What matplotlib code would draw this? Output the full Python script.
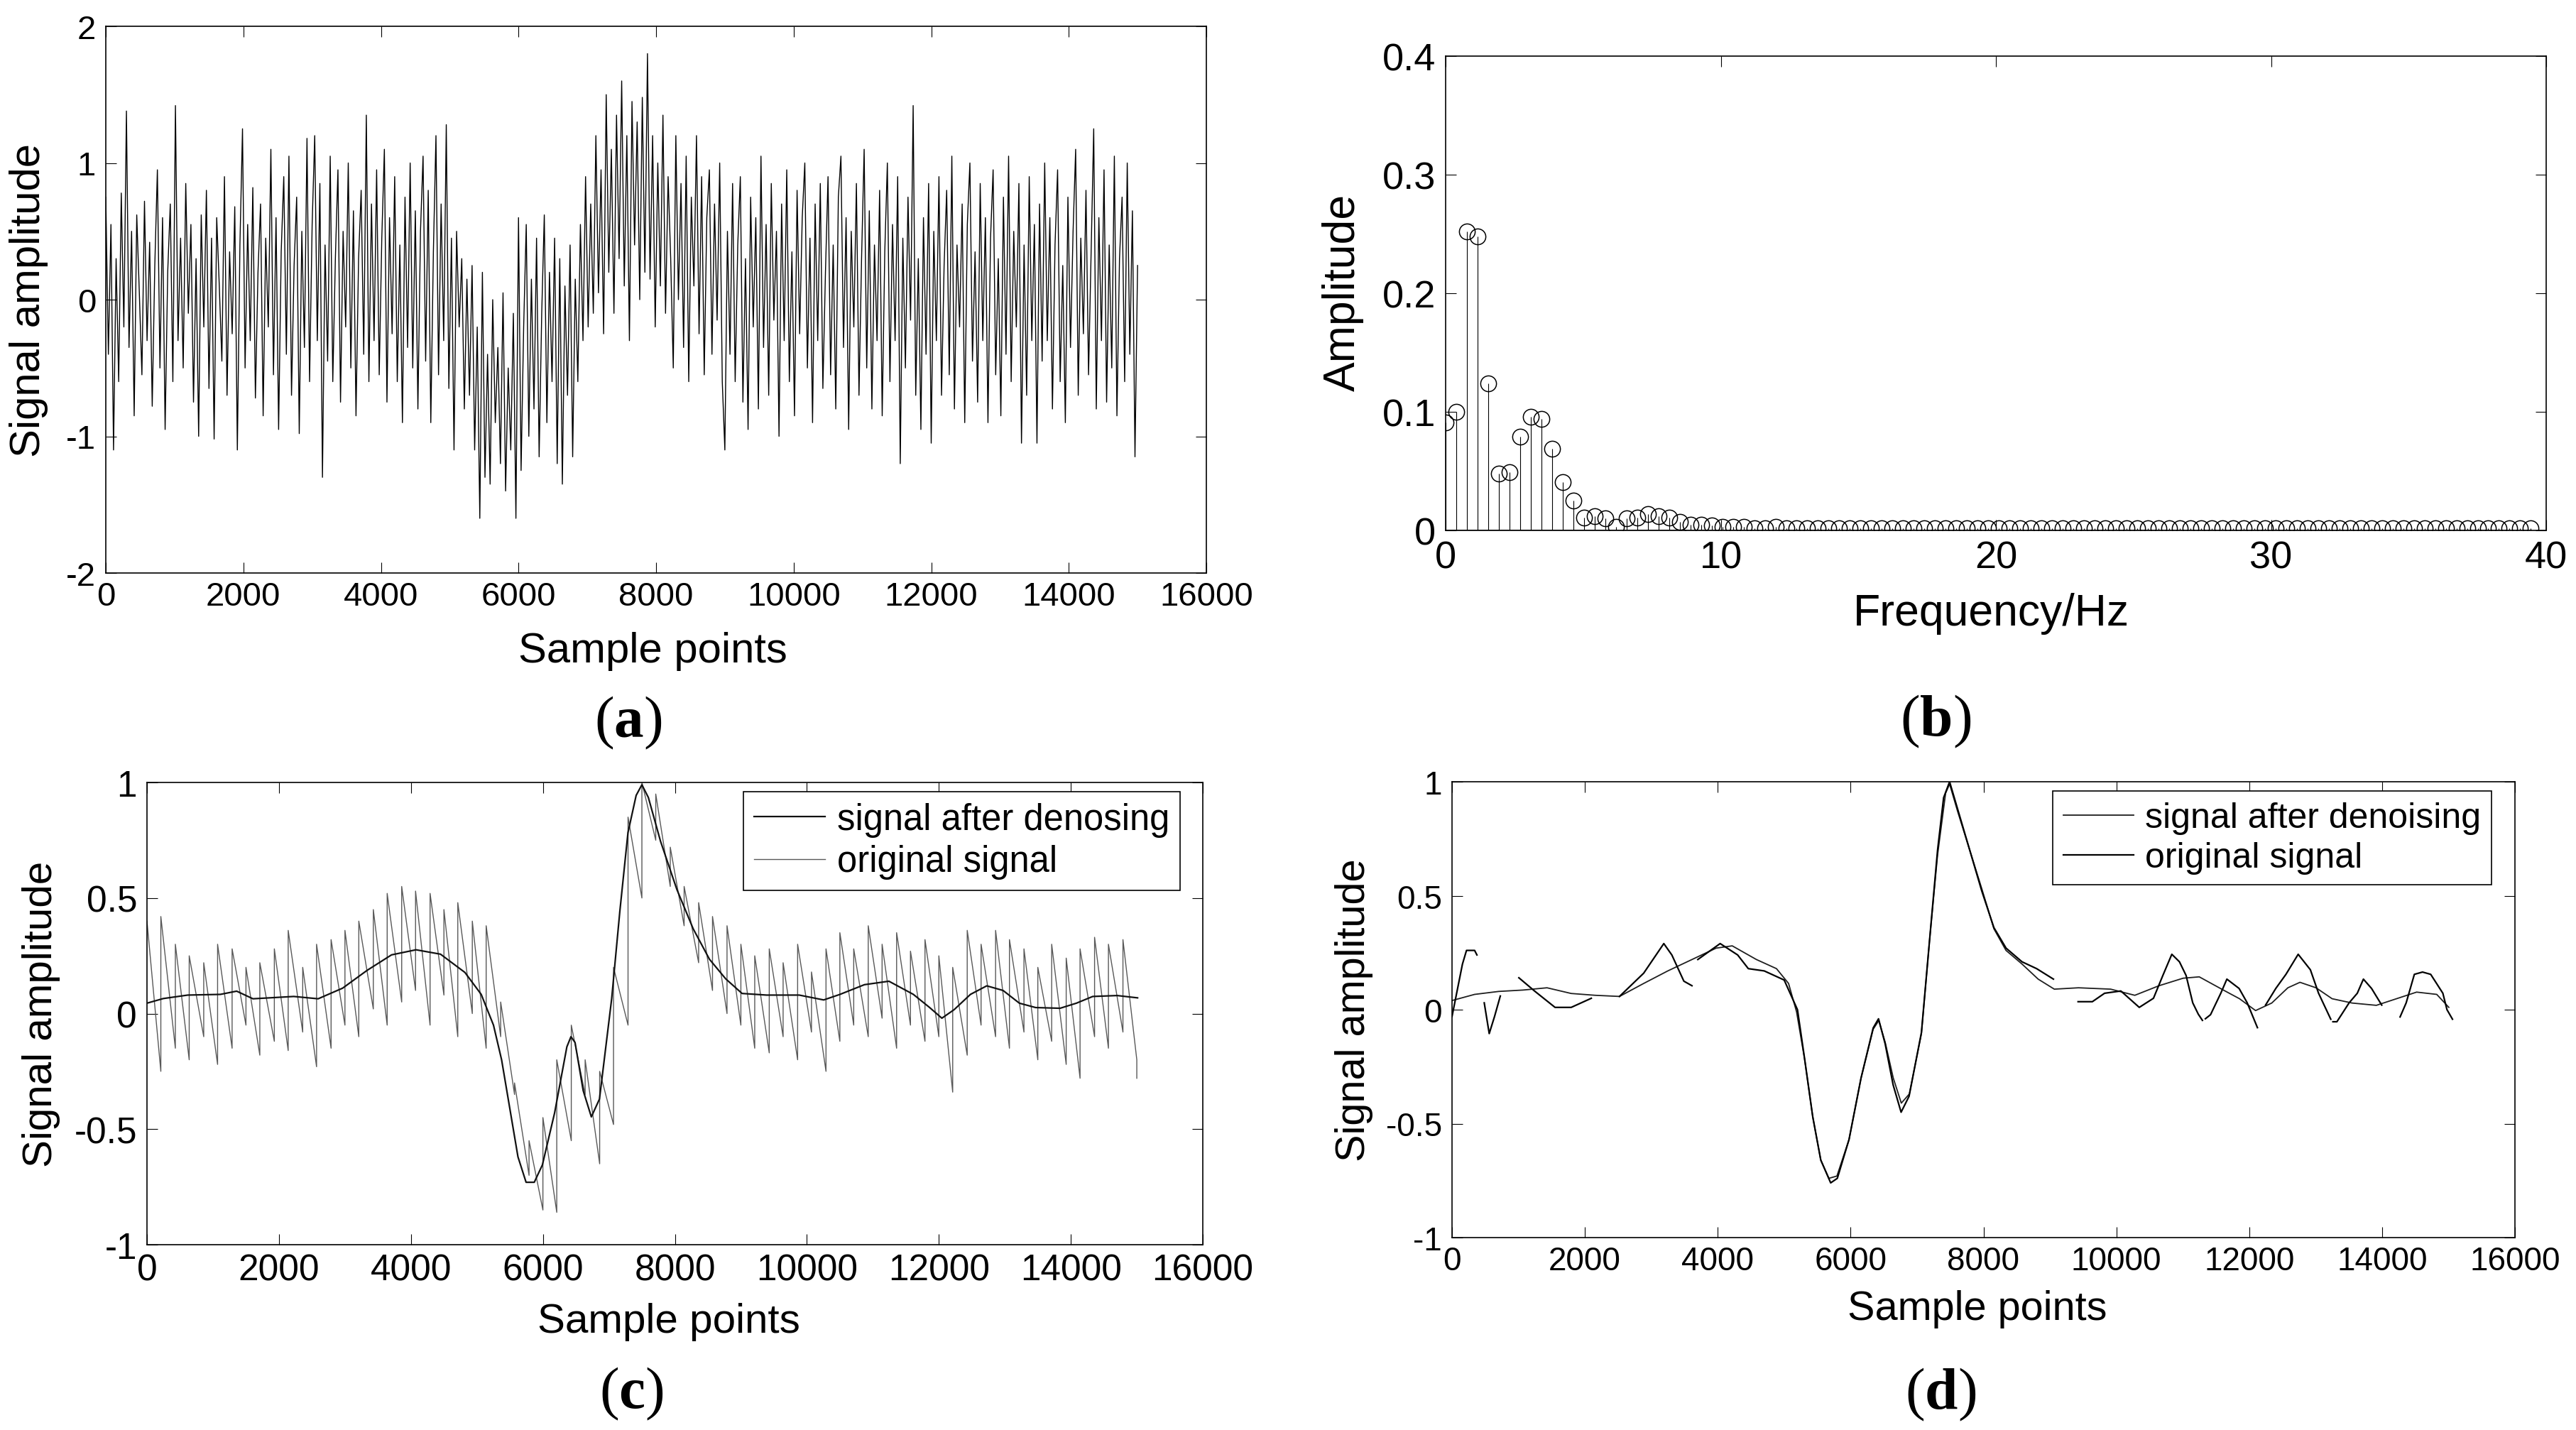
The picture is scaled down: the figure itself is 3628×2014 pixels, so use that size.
import numpy as np
import matplotlib
matplotlib.use("Agg")
import matplotlib.pyplot as plt
from matplotlib.ticker import FuncFormatter

plt.rcParams["font.family"] = ["Liberation Sans", "DejaVu Sans"]
plt.rcParams["axes.unicode_minus"] = False
plt.rcParams["mathtext.fontset"] = "custom"
plt.rcParams["mathtext.rm"] = "Liberation Serif"
plt.rcParams["mathtext.bf"] = "Liberation Serif:bold"

W, H = 3628, 2015

# ---------------- (a) raw noisy signal, 0..15000 samples ----------------
RAW_SIGNAL = [
    0.75, -0.4, 0.55, -1.1, 0.3, -0.6, 0.78, -0.2, 1.38, -0.35, 0.5, -0.85, 0.62, 0.05, -0.55, 0.72, -0.3, 0.42, -0.78, 0.25,
    0.95, -0.5, 0.6, -0.95, 0.2, 0.7, -0.6, 1.42, -0.3, 0.45, -0.5, 0.85, -0.1, 0.55, -0.75, 0.3, -1.0, 0.62, -0.2, 0.8,
    -0.65, 0.45, -1.02, 0.6, 0.1, -0.45, 0.9, -0.7, 0.35, -0.25, 0.68, -1.1, 0.4, 1.25, -0.5, 0.55, -0.3, 0.82, -0.72, 0.2,
    0.7, -0.85, 0.45, -0.2, 1.1, -0.55, 0.6, -0.95, 0.35, 0.9, -0.4, 1.05, -0.7, 0.25, 0.75, -0.98, 0.5, -0.35, 1.18, -0.6,
    0.55, 1.2, -0.3, 0.85, -1.3, 0.4, -0.45, 1.05, -0.6, 0.3, 0.95, -0.75, 0.5, -0.2, 1.0, -0.5, 0.65, -0.85, 0.3, 0.8,
    -0.4, 1.35, -0.6, 0.7, -0.3, 0.95, -0.55, 0.45, 1.1, -0.75, 0.6, -0.25, 0.9, -0.6, 0.4, -0.9, 0.75, -0.35, 1.0, -0.5,
    0.65, -0.8, 0.5, 1.05, -0.45, 0.8, -0.9, 0.35, 1.2, -0.55, 0.7, -0.3, 1.28, -0.65, 0.45, -1.1, 0.5, -0.2, 0.3, -0.8,
    0.15, -0.7, 0.25, -1.1, -0.2, -1.6, 0.2, -1.3, -0.4, -1.35, 0.0, -0.9, -0.35, -1.2, 0.05, -1.4, -0.5, -1.1, -0.1, -1.6,
    0.6, -1.25, -0.2, 0.55, -1.0, 0.15, -0.8, 0.45, -1.15, -0.1, 0.62, -0.9, 0.2, -0.6, 0.45, -1.2, 0.3, -1.35, 0.1, -0.7,
    0.4, -1.15, 0.15, -0.6, 0.55, -0.3, 0.9, -0.2, 0.7, -0.1, 1.2, 0.05, 0.95, -0.25, 1.5, 0.2, 1.1, -0.1, 1.35, 0.3,
    1.6, 0.1, 1.2, -0.3, 1.45, 0.4, 1.3, 0.0, 1.48, 0.2, 1.8, 0.15, 1.2, -0.2, 1.0, 0.1, 1.35, -0.1, 0.9, 0.3,
    -0.5, 1.2, 0.0, 0.85, -0.35, 1.05, -0.6, 0.75, 0.1, 1.2, -0.25, 0.9, -0.55, 0.6, 0.95, -0.4, 0.7, -0.15, 1.0, -0.6,
    -1.1, 0.5, -0.4, 0.85, -0.6, 0.4, 0.9, -0.75, 0.3, -0.95, 0.75, -0.2, 0.6, -0.8, 1.05, -0.35, 0.55, -0.7, 0.85, -0.15,
    0.5, -1.0, 0.7, -0.3, 0.95, -0.6, 0.35, -0.85, 0.8, -0.25, 0.6, 1.0, -0.5, 0.45, -0.9, 0.7, -0.3, 0.85, -0.65, 0.2,
    0.9, -0.55, 0.4, -0.8, 0.75, 1.05, -0.35, 0.6, -0.95, 0.5, -0.2, 0.85, -0.7, 0.3, 1.1, -0.5, 0.65, -0.8, 0.4, -0.3,
    0.8, -0.85, 0.35, 1.0, -0.6, 0.55, -0.3, 0.9, -1.2, 0.45, -0.5, 0.75, -0.15, 1.42, -0.7, 0.3, -0.95, 0.6, -0.4, 0.85,
    -1.05, 0.5, -0.3, 0.9, -0.7, 0.25, 0.8, -0.55, 1.05, -0.8, 0.4, -0.2, 0.7, -0.9, 0.55, 1.0, -0.45, 0.35, -0.75, 0.85,
    -0.3, 0.6, -0.9, 0.45, 0.95, -0.55, 0.3, -0.85, 0.75, -0.4, 1.05, -0.6, 0.5, -0.2, 0.85, -1.05, 0.4, -0.7, 0.9, -0.3,
    0.55, -1.05, 0.7, -0.45, 1.0, -0.3, 0.6, -0.8, 0.4, 0.95, -0.6, 0.25, -0.9, 0.75, -0.35, 0.5, 1.1, -0.7, 0.45, -0.25,
    0.8, -0.55, 0.35, 1.25, -0.8, 0.6, -0.3, 0.95, -0.75, 0.4, -0.5, 1.05, -0.85, 0.3, 0.75, -0.6, 1.0, -0.4, 0.65, -1.15,
    0.25,
]
RAW_LAST_SAMPLE = 15000

# ---------------- (b) amplitude spectrum ----------------
SPECTRUM_DF = 0.3867  # Hz between bins
SPECTRUM_AMP = [
    0.091, 0.100, 0.252, 0.248, 0.124, 0.048, 0.049, 0.079, 0.096, 0.094,
    0.069, 0.041, 0.025, 0.011, 0.012, 0.010, 0.003, 0.010, 0.011, 0.014,
    0.012, 0.011, 0.007, 0.005, 0.005, 0.004, 0.003, 0.003, 0.003, 0.002,
    0.002, 0.003, 0.002, 0.002, 0.002, 0.002, 0.002, 0.002, 0.002, 0.002,
    0.002, 0.002, 0.002, 0.002, 0.002, 0.002, 0.002, 0.002, 0.002, 0.002,
    0.002, 0.002, 0.002, 0.002, 0.002, 0.002, 0.002, 0.002, 0.002, 0.002,
    0.002, 0.002, 0.002, 0.002, 0.002, 0.002, 0.002, 0.002, 0.002, 0.002,
    0.002, 0.002, 0.002, 0.002, 0.002, 0.002, 0.002, 0.002, 0.002, 0.002,
    0.002, 0.002, 0.002, 0.002, 0.002, 0.002, 0.002, 0.002, 0.002, 0.002,
    0.002, 0.002, 0.002, 0.002, 0.002, 0.002, 0.002, 0.002, 0.002, 0.002,
    0.002, 0.002, 0.002,
]

# ---------------- (c) denoised vs original ----------------
C_DENOISED_X = [0, 247, 618, 1112, 1359, 1606, 1853, 2224, 2594, 2965, 3336, 3706,
                4077, 4448, 4818, 5065, 5251, 5374, 5498, 5622, 5745, 5869, 5992,
                6177, 6363, 6425, 6487, 6610, 6734, 6857, 7042, 7166, 7289, 7413,
                7500, 7598, 7783, 8030, 8277, 8524, 8771, 9018, 9389, 9884, 10255,
                10502, 10872, 11243, 11614, 11861, 12046, 12232, 12479, 12726,
                12973, 13220, 13467, 13838, 14085, 14332, 14703, 15012]
C_DENOISED_Y = [0.045, 0.065, 0.08, 0.083, 0.097, 0.064, 0.068, 0.074, 0.064, 0.11,
                0.187, 0.254, 0.276, 0.257, 0.178, 0.083, -0.05, -0.2, -0.41, -0.62,
                -0.73, -0.73, -0.655, -0.43, -0.144, -0.1, -0.125, -0.333, -0.447,
                -0.37, 0.064, 0.443, 0.783, 0.944, 0.99, 0.935, 0.745, 0.537, 0.367,
                0.235, 0.15, 0.087, 0.08, 0.08, 0.059, 0.083, 0.125, 0.14, 0.083,
                0.026, -0.02, 0.017, 0.083, 0.12, 0.10, 0.045, 0.026, 0.023, 0.045,
                0.074, 0.078, 0.068]

C_TOOTH_EDGES = [0, 210, 430, 640, 860, 1070, 1290, 1500, 1710, 1930, 2140, 2360,
                 2570, 2790, 3000, 3210, 3430, 3640, 3860, 4070, 4290, 4500, 4710,
                 4930, 5140, 5360, 5570, 5790, 6000, 6210, 6430, 6640, 6860, 7070,
                 7290, 7500, 7710, 7930, 8140, 8360, 8570, 8790, 9000, 9210, 9430,
                 9640, 9860, 10070, 10290, 10500, 10710, 10930, 11140, 11360, 11570,
                 11790, 12000, 12210, 12430, 12640, 12860, 13070, 13290, 13500,
                 13710, 13930, 14140, 14360, 14570, 14790, 15000]
C_TOOTH_TOP = [0.40, 0.42, 0.30, 0.25, 0.22, 0.30, 0.28, 0.20, 0.22, 0.28,
               0.36, 0.20, 0.30, 0.32, 0.36, 0.40, 0.45, 0.52, 0.55, 0.53,
               0.52, 0.45, 0.48, 0.40, 0.38, 0.05, -0.30, -0.55, -0.45, -0.20,
               -0.05, -0.20, -0.25, 0.20, 0.85, 1.00, 0.95, 0.72, 0.55, 0.48,
               0.42, 0.38, 0.30, 0.25, 0.28, 0.22, 0.30, 0.18, 0.28, 0.35,
               0.28, 0.38, 0.30, 0.35, 0.27, 0.32, 0.25, 0.20, 0.36, 0.30,
               0.36, 0.32, 0.28, 0.20, 0.30, 0.24, 0.28, 0.33, 0.30, 0.32]
C_TOOTH_BOTTOM = [-0.25, -0.15, -0.20, -0.10, -0.22, -0.15, -0.05, -0.18, -0.12, -0.16,
                  -0.08, -0.23, -0.15, -0.05, -0.10, 0.02, -0.05, 0.05, 0.10, -0.05,
                  0.08, -0.10, 0.00, -0.15, -0.10, -0.35, -0.70, -0.85, -0.86, -0.55,
                  -0.35, -0.65, -0.48, -0.05, 0.50, 0.75, 0.55, 0.38, 0.22, 0.10,
                  0.00, -0.05, -0.15, -0.17, -0.10, -0.20, -0.08, -0.25, -0.12, -0.05,
                  -0.10, -0.02, -0.15, -0.05, -0.12, -0.10, -0.34, -0.18, -0.05, -0.10,
                  -0.15, -0.08, -0.20, -0.12, -0.22, -0.28, -0.10, -0.15, -0.08, -0.20]
C_ORIGINAL_END = -0.28

# ---------------- (d) denoised vs original ----------------
D_DENOISED_X = [0, 340, 703, 1067, 1430, 1794, 2157, 2521, 2885, 3248, 3612, 3976,
                4218, 4582, 4884, 5066, 5187, 5309, 5430, 5551, 5673, 5794, 5976,
                6157, 6339, 6424, 6521, 6642, 6763, 6884, 7066, 7187, 7309, 7430,
                7490, 7611, 7793, 7975, 8157, 8339, 8581, 8823, 9066, 9430, 9914,
                10278, 10642, 11005, 11248, 11611, 11854, 12096, 12339, 12582,
                12764, 13006, 13248, 13551, 13914, 14217, 14520, 14823, 15005]
D_DENOISED_Y = [0.04, 0.067, 0.08, 0.086, 0.096, 0.071, 0.063, 0.058, 0.115, 0.17,
                0.22, 0.27, 0.28, 0.22, 0.18, 0.115, -0.01, -0.22, -0.47, -0.66,
                -0.74, -0.73, -0.57, -0.30, -0.086, -0.048, -0.144, -0.30, -0.41,
                -0.37, -0.105, 0.30, 0.68, 0.95, 0.99, 0.87, 0.70, 0.53, 0.355,
                0.26, 0.20, 0.134, 0.09, 0.096, 0.09, 0.063, 0.105, 0.138, 0.144,
                0.086, 0.048, -0.004, 0.029, 0.096, 0.12, 0.096, 0.048, 0.029,
                0.019, 0.048, 0.077, 0.067, 0.01]

NAN = float("nan")
D_ORIGINAL_X = [0, 157, 218, 340, 375, NAN,
                485, 560, 640, 727, NAN,
                1006, 1250, 1551, 1794, 2097, NAN,
                2521, 2885, 3188, 3309, 3490, 3612, NAN,
                3700, 4036, 4300, 4460, 4700, 5000, 5200, 5300, 5430, 5551, 5700,
                5800, 5976, 6157, 6340, 6420, 6520, 6640, 6760, 6880, 7066, 7187,
                7309, 7400, 7490, 7611, 7793, 7975, 8157, 8340, 8580, 8800, 9053, NAN,
                9424, 9639, 9823, 10068, 10345, 10559, 10700, 10835, 10950, 11050,
                11150, 11234, 11296, NAN,
                11340, 11418, 11572, 11664, 11848, 11970, 12124, NAN,
                12246, 12400, 12553, 12737, 12921, 13044, 13228, NAN,
                13260, 13320, 13504, 13627, 13719, 13842, 13995, NAN,
                14271, 14363, 14486, 14609, 14732, 14915, 14977, 15060]
D_ORIGINAL_Y = [-0.03, 0.20, 0.26, 0.26, 0.24, NAN,
                0.03, -0.105, -0.03, 0.06, NAN,
                0.14, 0.08, 0.01, 0.01, 0.05, NAN,
                0.058, 0.16, 0.29, 0.24, 0.125, 0.105, NAN,
                0.22, 0.29, 0.24, 0.18, 0.17, 0.13, 0.0, -0.2, -0.47, -0.66, -0.76,
                -0.74, -0.57, -0.30, -0.08, -0.04, -0.15, -0.33, -0.45, -0.38, -0.10, 0.30,
                0.70, 0.93, 1.0, 0.88, 0.70, 0.52, 0.36, 0.27, 0.21, 0.18, 0.134, NAN,
                0.035, 0.035, 0.072, 0.082, 0.010, 0.05, 0.15, 0.243, 0.21, 0.15,
                0.03, -0.02, -0.047, NAN,
                -0.04, -0.022, 0.072, 0.134, 0.093, 0.03, -0.079, NAN,
                0.02, 0.093, 0.155, 0.243, 0.175, 0.072, -0.042, NAN,
                -0.053, -0.053, 0.03, 0.072, 0.134, 0.093, 0.02, NAN,
                -0.032, 0.03, 0.155, 0.165, 0.155, 0.072, 0.0, -0.042]

SAMPLE_TICKS = [0, 2000, 4000, 6000, 8000, 10000, 12000, 14000, 16000]


def fig_rect(left, top, right, bottom):
    """Pixel box of an axes -> figure fraction rect."""
    return [left / W, 1 - bottom / H, (right - left) / W, (bottom - top) / H]


def matlab_style(ax, tick_size, xpad=8, ypad=10):
    ax.tick_params(which="both", direction="in", top=True, right=True,
                   length=10.8, width=0.8, labelsize=tick_size, colors="black")
    ax.tick_params(axis="x", pad=xpad)
    ax.tick_params(axis="y", pad=ypad)
    for sp in ax.spines.values():
        sp.set_linewidth(1.2)
        sp.set_color("black")
    fmt = FuncFormatter(lambda v, p: f"{v:g}")
    ax.xaxis.set_major_formatter(fmt)
    ax.yaxis.set_major_formatter(fmt)


def put_labels(ax, xlabel, ylabel, size, xpos, ypos):
    ax.set_xlabel(xlabel, fontsize=size, va="center", ha="center")
    ax.set_ylabel(ylabel, fontsize=size, va="center", ha="center")
    ax.xaxis.set_label_coords(*xpos)
    ax.yaxis.set_label_coords(*ypos)


fig = plt.figure(figsize=(W / 100, H / 100), dpi=100, facecolor="white")

# (a)
ax_a = fig.add_axes(fig_rect(149, 38, 1699, 808))
raw_x = np.linspace(0, RAW_LAST_SAMPLE, len(RAW_SIGNAL))
ax_a.plot(raw_x, RAW_SIGNAL, color="black", lw=1.0)
ax_a.set_xlim(0, 16000)
ax_a.set_ylim(-2, 2)
ax_a.set_xticks(SAMPLE_TICKS)
ax_a.set_yticks([-2, -1, 0, 1, 2])
matlab_style(ax_a, 34)
put_labels(ax_a, "Sample points", "Signal amplitude", 43,
           (0.497, -0.142), (-0.070, 0.5))

# (b)
ax_b = fig.add_axes(fig_rect(2036, 80, 3586, 748))
freqs = np.arange(len(SPECTRUM_AMP)) * SPECTRUM_DF
markers, stems, base = ax_b.stem(freqs, SPECTRUM_AMP, linefmt="k-",
                                 markerfmt="ko", basefmt="k-")
markers.set_markerfacecolor("none")
markers.set_markeredgecolor("black")
markers.set_markersize(16)
markers.set_markeredgewidth(1.1)
stems.set_linewidth(0.8)
base.set_linewidth(1.8)
ax_b.set_xlim(0, 40)
ax_b.set_ylim(0, 0.4)
ax_b.set_xticks([0, 10, 20, 30, 40])
ax_b.set_yticks([0, 0.1, 0.2, 0.3, 0.4])
matlab_style(ax_b, 39, xpad=10)
put_labels(ax_b, "Frequency/Hz", "Amplitude", 45,
           (0.496, -0.174), (-0.093, 0.503))

# (c)
ax_c = fig.add_axes(fig_rect(207, 1103, 1694, 1754))
orig_x, orig_y = [], []
for k in range(len(C_TOOTH_TOP)):
    orig_x += [C_TOOTH_EDGES[k], C_TOOTH_EDGES[k + 1]]
    orig_y += [C_TOOTH_TOP[k], C_TOOTH_BOTTOM[k]]
orig_x.append(C_TOOTH_EDGES[-1])
orig_y.append(C_ORIGINAL_END)
ax_c.plot(C_DENOISED_X, C_DENOISED_Y, color="#111111", lw=1.6,
          label="signal after denosing", zorder=3)
ax_c.plot(orig_x, orig_y, color="#585858", lw=1.0, label="original signal")
ax_c.set_xlim(0, 16000)
ax_c.set_ylim(-1, 1)
ax_c.set_xticks(SAMPLE_TICKS)
ax_c.set_yticks([-1, -0.5, 0, 0.5, 1])
matlab_style(ax_c, 37)
put_labels(ax_c, "Sample points", "Signal amplitude", 42,
           (0.494, -0.166), (-0.100, 0.5))
leg_c = ax_c.legend(loc="upper right", bbox_to_anchor=(1662 / W, 1 - 1116 / H),
                    bbox_transform=fig.transFigure, borderaxespad=0,
                    fontsize=36.5, frameon=True, fancybox=False, framealpha=1,
                    edgecolor="black", handlelength=1.97, handletextpad=0.32,
                    borderpad=0.3, labelspacing=0.2)
leg_c.get_frame().set_linewidth(1.2)

# (d)
ax_d = fig.add_axes(fig_rect(2045, 1102, 3542, 1744))
ax_d.plot(D_DENOISED_X, D_DENOISED_Y, color="#1e1e1e", lw=1.3,
          label="signal after denoising")
ax_d.plot(D_ORIGINAL_X, D_ORIGINAL_Y, color="black", lw=1.6,
          label="original signal")
ax_d.set_xlim(0, 16000)
ax_d.set_ylim(-1, 1)
ax_d.set_xticks(SAMPLE_TICKS)
ax_d.set_yticks([-1, -0.5, 0, 0.5, 1])
matlab_style(ax_d, 33)
put_labels(ax_d, "Sample points", "Signal amplitude", 41.5,
           (0.494, -0.156), (-0.092, 0.5))
leg_d = ax_d.legend(loc="upper right", bbox_to_anchor=(3509 / W, 1 - 1115 / H),
                    bbox_transform=fig.transFigure, borderaxespad=0,
                    fontsize=36, frameon=True, fancybox=False, framealpha=1,
                    edgecolor="black", handlelength=1.97, handletextpad=0.32,
                    borderpad=0.3, labelspacing=0.2)
leg_d.get_frame().set_linewidth(1.2)

# panel letters: regular parentheses, bold letter
for letter, (px, py) in zip("abcd", [(885, 1018), (2726, 1016), (889, 1963), (2733, 1964)]):
    fig.text(px / W, 1 - py / H, r"$\mathrm{(}\mathbf{%s}\mathrm{)}$" % letter,
             ha="center", va="center", fontsize=60)

fig.savefig("out.png", dpi=100, facecolor="white")
plt.close(fig)
